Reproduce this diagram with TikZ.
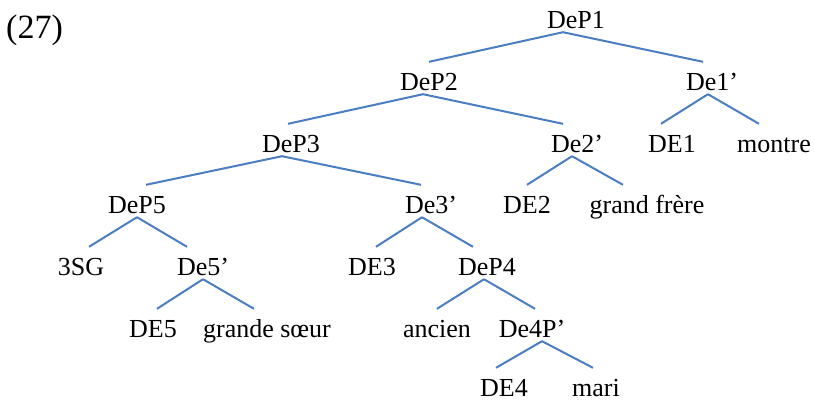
\documentclass[tikz,border=0pt]{standalone}
\usepackage{fontspec}
\setmainfont{Liberation Serif}
\definecolor{branchblue}{RGB}{74,126,193}
\tikzset{
  cat/.style={anchor=base, inner sep=0pt, text height=28pt, text depth=4pt, font=\fontsize{26}{30}\selectfont},
  branch/.style={draw=branchblue, line width=2pt}
}

\begin{document}
\begin{tikzpicture}[x=1pt,y=-1pt]
\useasboundingbox (0,0) rectangle (815,400);
\node[anchor=base west, inner sep=0pt, font=\fontsize{34}{40}\selectfont] (exnum) at (6,38) {(27)};
% level 1-2
\node[cat] (dep1) at (576,28) {DeP1};
\node[cat] (dep2) at (429,90) {DeP2};
\node[cat] (de1) at (712,90) {De1’};
% level 3
\node[cat] (dep3) at (291,152) {DeP3};
\node[cat] (de2) at (577,152) {De2’};
\node[cat] (dea) at (672,152) {DE1};
\node[cat] (montre) at (774,152) {montre};
% level 4
\node[cat] (dep5) at (137,213) {DeP5};
\node[cat] (de3) at (431,213) {De3’};
\node[cat] (deb) at (527,213) {DE2};
\node[cat] (frere) at (647,213) {grand frère};
% level 5
\node[cat] (sg) at (81,275) {3SG};
\node[cat] (de5) at (203,275) {De5’};
\node[cat] (dec) at (372,275) {DE3};
\node[cat] (dep4) at (487,275) {DeP4};
% level 6
\node[cat] (ded) at (153,337) {DE5};
\node[cat] (soeur) at (267,337) {grande sœur};
\node[cat] (ancien) at (437,337) {ancien};
\node[cat] (de4p) at (532,337) {De4P’};
% level 7
\node[cat] (dee) at (504,396) {DE4};
\node[cat] (mari) at (596,396) {mari};

\draw[branch] ([xshift=-13pt]dep1.south) -- (dep2.north);
\draw[branch] ([xshift=-13pt]dep1.south) -- ([xshift=-9pt]de1.north);
\draw[branch] ([xshift=-6pt]dep2.south) -- ([xshift=-3pt]dep3.north);
\draw[branch] ([xshift=-6pt]dep2.south) -- ([xshift=-14pt]de2.north);
\draw[branch] ([xshift=-4pt]de1.south) -- ([xshift=-11pt]dea.north);
\draw[branch] ([xshift=-4pt]de1.south) -- ([xshift=-15pt]montre.north);
\draw[branch] ([xshift=-5pt]de2.south) -- (deb.north);
\draw[branch] ([xshift=-5pt]de2.south) -- ([xshift=-24pt]frere.north);
\draw[branch] ([xshift=-9pt]dep3.south) -- ([xshift=9pt]dep5.north);
\draw[branch] ([xshift=-9pt]dep3.south) -- ([xshift=-10pt]de3.north);
\draw[branch] (dep5.south) -- ([xshift=8pt]sg.north);
\draw[branch] (dep5.south) -- ([xshift=-16pt]de5.north);
\draw[branch] (de5.south) -- ([xshift=4pt]ded.north);
\draw[branch] (de5.south) -- ([xshift=-13pt]soeur.north);
\draw[branch] ([xshift=-9pt]de3.south) -- ([xshift=4pt]dec.north);
\draw[branch] ([xshift=-9pt]de3.south) -- ([xshift=-14pt]dep4.north);
\draw[branch] ([xshift=-3pt]dep4.south) -- (ancien.north);
\draw[branch] ([xshift=-3pt]dep4.south) -- ([xshift=3pt]de4p.north);
\draw[branch] ([xshift=10pt]de4p.south) -- ([xshift=-8pt]dee.north);
\draw[branch] ([xshift=10pt]de4p.south) -- ([xshift=-3pt]mari.north);
\end{tikzpicture}
\end{document}
